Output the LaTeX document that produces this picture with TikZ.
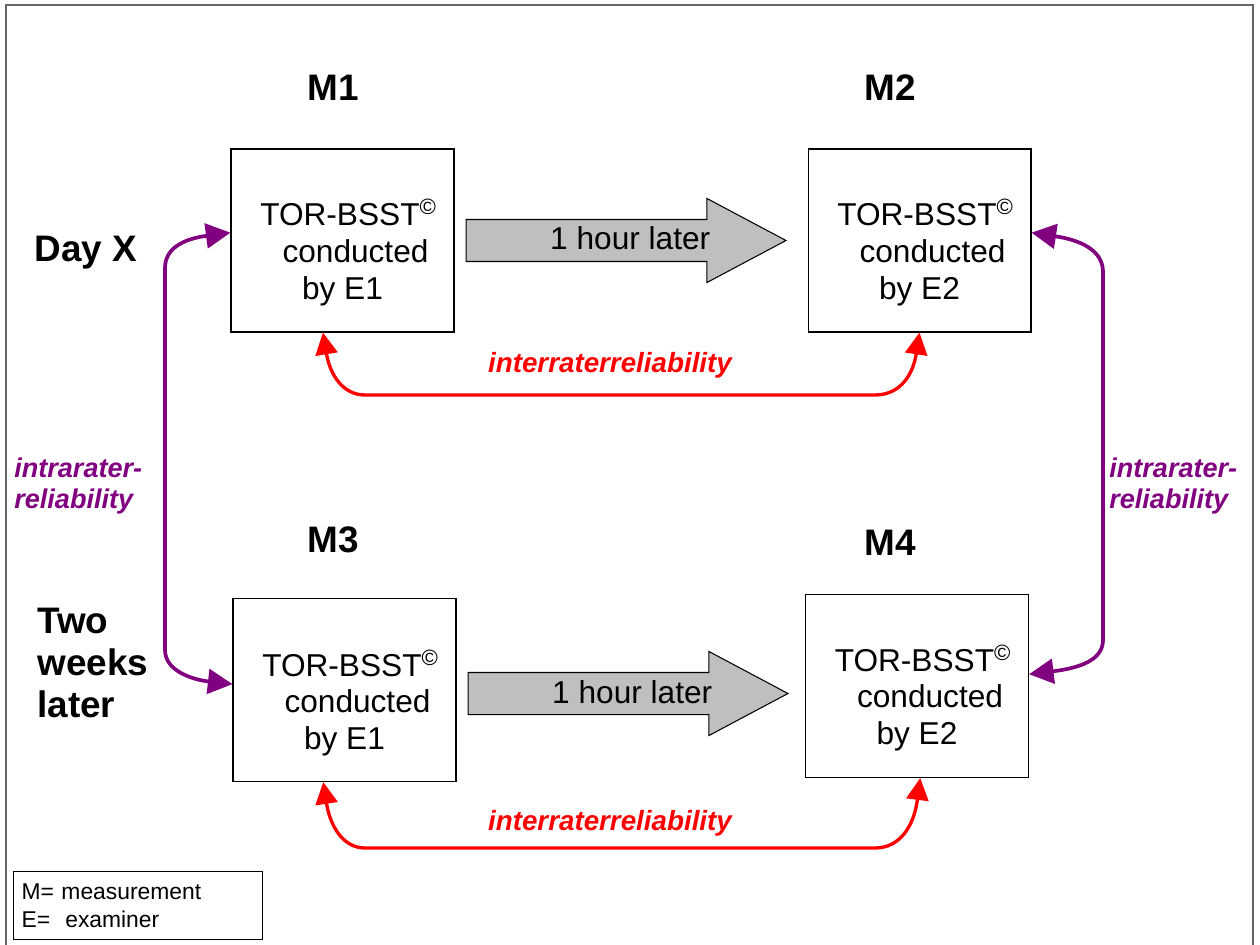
\documentclass[tikz,border=0pt]{standalone}
\usepackage{fontspec}
\setmainfont{Liberation Sans}
\usetikzlibrary{positioning,shapes.arrows,arrows.meta,calc}
\definecolor{intrapurple}{RGB}{128,0,128}
\newcommand{\torbsst}[1]{TOR-BSST\textsuperscript{\copyright}\\\hspace*{0.28cm}conducted\\by #1\hspace*{0.24cm}}
\begin{document}
\begin{tikzpicture}[x=0.02cm,y=-0.02cm,
  testbox/.style={draw,line width=0.6pt,minimum width=4.46cm,minimum height=3.66cm,inner sep=0},
  boxtext/.style={align=center,inner sep=0,font=\fontsize{18}{21}\selectfont},
  mlabel/.style={font=\fontsize{21}{24}\selectfont\bfseries,inner sep=0},
  daylabel/.style={font=\fontsize{21}{24}\selectfont\bfseries,inner sep=0,align=left},
  hourarrow/.style={single arrow,draw,line width=0.6pt,fill=gray!50,single arrow head extend=0.42cm,
    single arrow tip angle=56,minimum height=6.4cm,inner xsep=0,inner ysep=0.08cm,
    text height=0.52cm,text depth=0.14cm,font=\fontsize{18}{21}\selectfont},
  inter/.style={red,line width=1.9pt,{Triangle[length=12.5pt,width=12.5pt]}-{Triangle[length=12.5pt,width=12.5pt]}},
  intra/.style={intrapurple,line width=2.1pt,{Triangle[length=14pt,width=14pt]}-{Triangle[length=14pt,width=14pt]}},
  interlabel/.style={red,font=\fontsize{15.8}{18}\selectfont\bfseries\itshape,inner sep=0},
  intralabel/.style={intrapurple,font=\fontsize{15.4}{18}\selectfont\bfseries\itshape,inner sep=0,align=left},
  legendbox/.style={draw,line width=0.6pt,text width=4.66cm,inner xsep=0.16cm,minimum height=1.36cm,
    align=left,font=\fontsize{13}{16}\selectfont}]
\useasboundingbox (0,0) rectangle (1260,945);
% outer frame
\draw[black!60,line width=1pt] (6,945) -- (6,5) -- (1253,5) -- (1253,945);

% measurements
\node[testbox] (m1) at (342.5,240.5) {};
\node[testbox] (m2) at (919.5,240.5) {};
\node[testbox] (m3) at (344.5,690) {};
\node[testbox] (m4) at (917,686) {};
\node[boxtext] (t1) at ($(m1.center)+(6,12)$) {\torbsst{E1}};
\node[boxtext] (t2) at ($(m2.center)+(6,12)$) {\torbsst{E2}};
\node[boxtext] (t3) at ($(m3.center)+(6,13)$) {\torbsst{E1}};
\node[boxtext] (t4) at ($(m4.center)+(6,12)$) {\torbsst{E2}};

\node[mlabel] (l1) at (333,88) {M1};
\node[mlabel] (l2) at (890,88) {M2};
\node[mlabel] (l3) at (333,540) {M3};
\node[mlabel] (l4) at (890,543) {M4};

\node[daylabel] (dayx) at (86,253) {Day X};
\node[daylabel,anchor=west] (later) at (37,663) {Two\\weeks\\later};

% one hour between the examiners
\node[hourarrow,right=0.22cm of m1] (h1) {\hspace*{0.96cm}1 hour later};
\node[hourarrow,right=0.22cm of m3,yshift=-0.07cm] (h2) {\hspace*{0.96cm}1 hour later};

% interrater
\draw[inter] (m1.258) .. controls (330,375) and (343,395) .. (365,395) -- (875,395)
  .. controls (900,395) and (913,375) .. (m2.south);
\draw[inter] (m3.257) .. controls (330,826) and (343,848) .. (365,848) -- (875,848)
  .. controls (900,848) and (914,826) .. (m4.272);
\node[interlabel] (r1) at (610,365) {interraterreliability};
\node[interlabel] (r2) at (610,823) {interraterreliability};

% intrarater
\draw[intra] (m1.176) .. controls (190,238) and (165,245) .. (165,268) -- (165,650)
  .. controls (165,672) and (195,680) .. (m3.177);
\draw[intra] (m2.4) .. controls (1080,240) and (1103,250) .. (1103,272) -- (1103,640)
  .. controls (1103,660) and (1080,668) .. (m4.6);
\node[intralabel,anchor=west] (a1) at (14,486) {intrarater-\\reliability};
\node[intralabel,anchor=west] (a2) at (1109,486) {intrarater-\\reliability};

% legend
\node[legendbox,anchor=north west] (legend) at (13,871) {M= measurement\\E=~~examiner};
\end{tikzpicture}
\end{document}
